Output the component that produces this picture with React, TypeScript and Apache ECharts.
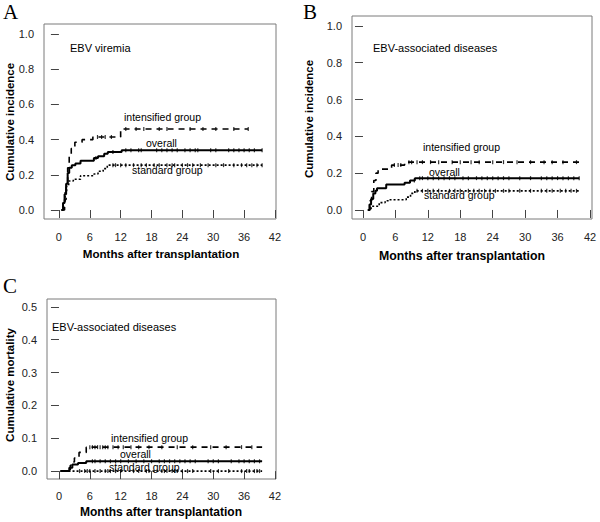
import React, { useEffect, useRef } from "react";
import * as echarts from "echarts";

type Pt = [number, number];

const monthTicks = [0, 6, 12, 18, 24, 30, 36, 42];
const incidenceTicks = [0, 0.2, 0.4, 0.6, 0.8, 1.0];
const mortalityTicks = [0, 0.1, 0.2, 0.3, 0.4, 0.5];

// Panel A: EBV viremia (cumulative incidence)
const aIntensified: Pt[] = [[0.5, 0], [1.1, 0.06], [1.4, 0.14], [1.7, 0.24], [2.0, 0.31], [2.4, 0.35], [3.1, 0.385], [4.5, 0.4], [6.6, 0.415], [12.0, 0.46], [36.8, 0.46]];
const aOverall: Pt[] = [[0.5, 0], [0.8, 0.04], [1.1, 0.09], [1.4, 0.15], [1.7, 0.21], [2.0, 0.24], [2.5, 0.255], [3.2, 0.265], [4.2, 0.28], [6.8, 0.295], [7.6, 0.305], [8.8, 0.32], [9.5, 0.33], [12.2, 0.34], [39.5, 0.34]];
const aStandard: Pt[] = [[0.5, 0], [0.9, 0.05], [1.2, 0.1], [1.5, 0.14], [1.9, 0.165], [2.8, 0.175], [4.2, 0.195], [6.8, 0.205], [7.6, 0.22], [8.6, 0.235], [9.4, 0.255], [39.5, 0.255]];
const aIntensifiedCensor = [7.5, 8.3, 9.0, 10.2, 13.0, 15.0, 16.5, 19.5, 21.0, 25.5, 28.0, 30.5, 34.0, 36.8];
const aOverallCensor = [7.2, 10.5, 13, 14, 15.5, 16, 19, 20, 21, 22, 23, 24.5, 25.5, 26.5, 27, 29.5, 30.5, 33, 34, 35, 36, 37, 38, 39.5];
const aStandardCensor = [10.5, 11, 12, 13, 14.5, 16, 17, 18.5, 19.5, 21, 22, 22.5, 24, 25, 26, 27.5, 29, 30.5, 32, 34, 35.5, 36.5, 37.5, 38.5, 39.5];

// Panel B: EBV-associated diseases (cumulative incidence)
const bIntensified: Pt[] = [[0.9, 0], [1.3, 0.05], [1.6, 0.1], [2.0, 0.16], [2.4, 0.2], [2.8, 0.222], [5.3, 0.244], [7.7, 0.26], [40.0, 0.26]];
const bOverall: Pt[] = [[0.9, 0], [1.2, 0.03], [1.5, 0.06], [1.9, 0.09], [2.3, 0.105], [2.6, 0.118], [4.3, 0.138], [7.7, 0.148], [8.7, 0.16], [9.6, 0.173], [40.0, 0.173]];
const bStandard: Pt[] = [[0.9, 0], [1.5, 0.02], [3.0, 0.04], [4.1, 0.05], [4.9, 0.056], [8.0, 0.07], [8.8, 0.09], [9.6, 0.104], [40.0, 0.104]];
const bIntensifiedCensor = [5.8, 6.5, 7.0, 8.5, 9.0, 10.0, 11.0, 12.5, 14.0, 16.5, 18.0, 20.0, 21.5, 24.0, 26.0, 28.5, 31.0, 33.5, 35.0, 37.0, 39.5];
const bOverallCensor = [9.5, 10.5, 11, 12, 13, 14, 15, 16, 17, 18.5, 19.5, 21, 22, 23, 24, 25, 26, 27, 29, 31, 33, 34, 35, 36, 37, 38, 39, 40];
const bStandardCensor = [10, 11, 12, 13, 14, 16, 17, 18, 19.5, 20.5, 21.5, 22.5, 23.5, 24.5, 26, 27, 29, 31, 33, 34, 35, 36.5, 37.5, 38.5, 39.5];

// Panel C: EBV-associated diseases (cumulative mortality)
const cIntensified: Pt[] = [[0.3, 0], [2.2, 0.018], [2.6, 0.028], [3.0, 0.04], [3.9, 0.057], [5.3, 0.073], [39.5, 0.073]];
const cOverall: Pt[] = [[0.3, 0], [2.0, 0.01], [2.6, 0.02], [3.7, 0.025], [5.3, 0.03], [39.5, 0.03]];
const cStandard: Pt[] = [[0.3, 0], [39.5, 0]];
const cIntensifiedCensor = [6, 6.5, 7, 7.5, 8, 8.5, 9, 9.5, 10.5, 11.5, 12.5, 14, 15.5, 17.5, 20, 23, 26, 29.5, 32.5, 35.5, 37.5];
const cOverallCensor = [6.5, 7, 8, 9, 10, 11, 12, 13.5, 15, 16.5, 18, 19.5, 20.5, 21.5, 22.5, 23.5, 24.5, 25.5, 26.5, 29, 30, 31, 33.5, 35, 36, 37, 38, 39];
const cStandardCensor = [4, 5, 5.5, 6, 7, 8, 9, 9.5, 10, 11, 12, 14.5, 15.5, 17, 17.5, 20, 20.5, 21, 22, 22.5, 23, 24, 25, 26, 29.5, 31, 33, 35.5, 36.5, 37, 38, 38.5, 39];

const SANS = "'Liberation Sans', Arial, Helvetica, sans-serif";
const SERIF = "'Liberation Serif', 'Times New Roman', serif";

function stepValue(curve: Pt[], t: number): number {
  let v = curve[0][1];
  for (const p of curve) {
    if (p[0] <= t) v = p[1];
  }
  return v;
}

const lineStyles = {
  intensified: { type: [6, 5] as number[], width: 1.6 },
  overall: { type: "solid", width: 2 },
  standard: { type: [2, 2] as number[], width: 1.6 },
};

function panelSeries(idx: number, curves: { key: "intensified" | "overall" | "standard"; data: Pt[]; censor: number[] }[]) {
  const out: any[] = [];
  for (const c of curves) {
    out.push({
      type: "line",
      xAxisIndex: idx,
      yAxisIndex: idx,
      step: "end",
      showSymbol: false,
      symbol: "none",
      data: c.data,
      lineStyle: { color: "#000", ...lineStyles[c.key] },
      silent: true,
    });
    out.push({
      type: "scatter",
      xAxisIndex: idx,
      yAxisIndex: idx,
      symbol: "rect",
      symbolSize: [1.2, 4],
      itemStyle: { color: "#000" },
      data: c.censor.map((t) => [t, stepValue(c.data, t)]),
      silent: true,
    });
  }
  return out;
}

function xAxis(idx: number, min: number, max: number, margin: number) {
  return {
    type: "value",
    gridIndex: idx,
    min,
    max,
    splitLine: { show: false },
    axisLine: { show: false },
    axisTick: { show: true, length: 8, customValues: monthTicks, lineStyle: { color: "#444" } },
    axisLabel: { customValues: monthTicks, margin, fontSize: 11, color: "#222", fontFamily: SANS },
  };
}

function yAxis(idx: number, min: number, max: number, ticks: number[]) {
  return {
    type: "value",
    gridIndex: idx,
    min,
    max,
    splitLine: { show: false },
    axisLine: { show: false },
    axisTick: { show: true, length: 8, customValues: ticks, lineStyle: { color: "#444" } },
    axisLabel: {
      customValues: ticks,
      margin: 10,
      fontSize: 11,
      color: "#222",
      fontFamily: SANS,
      formatter: (v: number) => v.toFixed(1),
    },
  };
}

function txt(text: string, x: number, y: number, size: number, opts: any = {}) {
  return {
    type: "text",
    x,
    y,
    rotation: opts.rotation || 0,
    silent: true,
    style: {
      text,
      fill: "#000",
      font: `${opts.weight || "normal"} ${size}px ${opts.family || SANS}`,
      textAlign: opts.align || "left",
      textVerticalAlign: "middle",
    },
  };
}

export default function App() {
  const ref = useRef<HTMLDivElement>(null);
  useEffect(() => {
    if (!ref.current) return;
    const chart = echarts.init(ref.current, null, { renderer: "svg" });
    const option: any = {
      animation: false,
      backgroundColor: "#fff",
      grid: [
        { left: 44, top: 24, width: 232, height: 195, show: true, borderColor: "#7a7a7a", borderWidth: 1, backgroundColor: "transparent" },
        { left: 352, top: 16, width: 240, height: 203, show: true, borderColor: "#7a7a7a", borderWidth: 1, backgroundColor: "transparent" },
        { left: 47, top: 299, width: 229, height: 180, show: true, borderColor: "#7a7a7a", borderWidth: 1, backgroundColor: "transparent" },
      ],
      xAxis: [xAxis(0, -2.9, 42.2, 12), xAxis(1, -2.03, 42.37, 12), xAxis(2, -2.33, 42.2, 11)],
      yAxis: [yAxis(0, -0.051, 1.057, incidenceTicks), yAxis(1, -0.049, 1.054, incidenceTicks), yAxis(2, -0.024, 0.524, mortalityTicks)],
      series: [
        ...panelSeries(0, [
          { key: "intensified", data: aIntensified, censor: aIntensifiedCensor },
          { key: "overall", data: aOverall, censor: aOverallCensor },
          { key: "standard", data: aStandard, censor: aStandardCensor },
        ]),
        ...panelSeries(1, [
          { key: "intensified", data: bIntensified, censor: bIntensifiedCensor },
          { key: "overall", data: bOverall, censor: bOverallCensor },
          { key: "standard", data: bStandard, censor: bStandardCensor },
        ]),
        ...panelSeries(2, [
          { key: "intensified", data: cIntensified, censor: cIntensifiedCensor },
          { key: "overall", data: cOverall, censor: cOverallCensor },
          { key: "standard", data: cStandard, censor: cStandardCensor },
        ]),
      ],
      graphic: [
        txt("A", 3, 12, 21, { family: SERIF }),
        txt("B", 303, 12, 21, { family: SERIF }),
        txt("C", 3, 286, 21, { family: SERIF }),
        txt("EBV viremia", 70, 48, 11),
        txt("intensified group", 124, 117, 10.5),
        txt("overall", 146, 143, 10.5),
        txt("standard group", 132, 170, 10.5),
        txt("EBV-associated diseases", 373, 48, 11),
        txt("intensified group", 423, 147, 10.5),
        txt("overall", 429, 172, 10.5),
        txt("standard group", 424, 195, 10.5),
        txt("EBV-associated diseases", 52, 327, 11),
        txt("intensified group", 111, 438, 10.5),
        txt("overall", 120, 454, 10.5),
        txt("standard group", 109, 467, 10.5),
        txt("Cumulative incidence", 10, 122, 11.5, { weight: "bold", align: "center", rotation: Math.PI / 2 }),
        txt("Cumulative incidence", 309, 119, 11.5, { weight: "bold", align: "center", rotation: Math.PI / 2 }),
        txt("Cumulative mortality", 10, 385, 11.5, { weight: "bold", align: "center", rotation: Math.PI / 2 }),
        txt("Months after transplantation", 161, 253, 11.6, { weight: "bold", align: "center" }),
        txt("Months after transplantation", 462, 256, 12.3, { weight: "bold", align: "center" }),
        txt("Months after transplantation", 161, 512, 12, { weight: "bold", align: "center" }),
      ],
    };
    chart.setOption(option);
    return () => chart.dispose();
  }, []);
  return <div ref={ref} style={{ position: "absolute", left: 0, top: 0, width: 600, height: 522, background: "#fff" }} />;
}
